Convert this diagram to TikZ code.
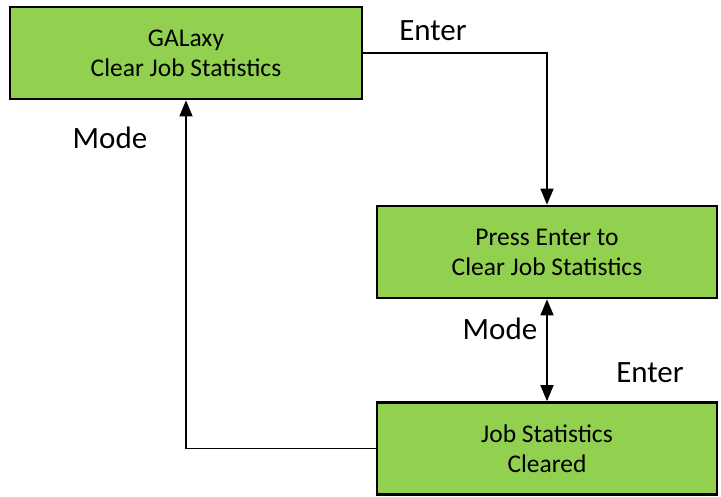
\documentclass[tikz,border=0pt]{standalone}
\usepackage{fontspec}
\setmainfont{Carlito}
\usetikzlibrary{arrows.meta}
\definecolor{boxgreen}{HTML}{92D050}
\tikzset{
    statebox/.style = {
        rectangle, draw, fill=boxgreen, line width=2.6pt, minimum width=#1,
        minimum height=92pt, align=center, font=\fontsize{25.5}{30}\selectfont
    },
    keylabel/.style = {font=\fontsize{31}{34}\selectfont},
    flow/.style = {line width=1.3pt, -{Triangle[width=13pt,length=16pt]}}
}

\begin{document}
\begin{tikzpicture}[x=1pt,y=-1pt]
    \useasboundingbox (0,0) rectangle (721,497);
    \node[statebox=352pt] (galaxy) at (186,53) {GALaxy\\Clear Job Statistics};
    \node[statebox=340pt] (press) at (547,252) {Press Enter to\\Clear Job Statistics};
    \node[statebox=340pt] (cleared) at (547,448.5) {Job Statistics\\Cleared};
    \draw[flow] (galaxy.east) -| (press.north);
    \draw[flow, {Triangle[width=13pt,length=16pt]}-{Triangle[width=13pt,length=16pt]}] (press.south) -- (cleared.north);
    \draw[flow] (cleared.west) -| (galaxy.south);
    \node[keylabel] (enter1) at (433,31) {Enter};
    \node[keylabel] (mode1) at (110,138) {Mode};
    \node[keylabel] (mode2) at (500,329) {Mode};
    \node[keylabel] (enter2) at (650,373) {Enter};
\end{tikzpicture}
\end{document}
